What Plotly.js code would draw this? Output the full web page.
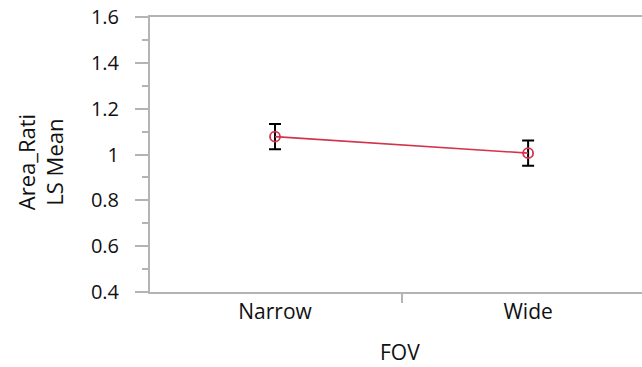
<!DOCTYPE html>
<html>
<head>
<meta charset="utf-8">
<script src="https://cdn.plot.ly/plotly-3.0.1.min.js"></script>
<style>
  html, body { margin: 0; padding: 0; background: #fff; }
  #chart { width: 642px; height: 367px; }
</style>
</head>
<body>
<div id="chart"></div>
<script>
// Least-squares means of Area_Rati by field of view, with error bars
const fovLevels = ["Narrow", "Wide"];
const lsMeans = [1.078, 1.006];
const errHalfWidth = [0.055, 0.055];
const yTicks = [0.4, 0.6, 0.8, 1, 1.2, 1.4, 1.6];

const font = "'Open Sans', 'Noto Sans', sans-serif";
const axisGrey = "#b4b4b4";
const ink = "#111";

// plot box in pixels, used to place the axis titles
const W = 642, H = 367;
const M = { l: 150, r: 0, t: 16.5, b: 75 };
const plotW = W - M.l - M.r, plotH = H - M.t - M.b;
const px2x = px => (px - M.l) / plotW;
const py2y = py => (H - M.b - py) / plotH;

const trace = {
  type: "scatter",
  mode: "lines+markers",
  x: fovLevels,
  y: lsMeans,
  line: { color: "#d3334d", width: 1.6 },
  marker: {
    symbol: "circle-open",
    size: 10,
    color: "#d3334d",
    line: { width: 1.8, color: "#d3334d" }
  },
  error_y: {
    type: "data",
    array: errHalfWidth,
    visible: true,
    color: "#000",
    thickness: 2,
    width: 6
  },
  hoverinfo: "skip"
};

const layout = {
  width: W,
  height: H,
  margin: M,
  paper_bgcolor: "#fff",
  plot_bgcolor: "#fff",
  showlegend: false,
  font: { family: font, size: 20, color: ink },
  xaxis: {
    type: "category",
    range: [-0.494, 1.45],
    showgrid: false,
    zeroline: false,
    showline: true,
    mirror: true,
    linecolor: axisGrey,
    linewidth: 2,
    ticks: "outside",
    tickson: "boundaries",
    ticklen: 9,
    tickwidth: 2,
    tickcolor: axisGrey,
    tickfont: { family: font, size: 21, color: ink }
  },
  yaxis: {
    range: [0.4, 1.6],
    tickvals: yTicks,
    ticktext: yTicks.map(v => String(v)),
    showgrid: false,
    zeroline: false,
    showline: true,
    linecolor: axisGrey,
    linewidth: 2,
    ticks: "outside",
    ticklen: 13,
    tickwidth: 2,
    tickcolor: axisGrey,
    ticklabelstandoff: 12,
    tickfont: { family: font, size: 20, color: ink },
    minor: { dtick: 0.1, ticks: "outside", ticklen: 6, tickwidth: 2, tickcolor: axisGrey, showgrid: false }
  },
  annotations: [
    {
      text: "Area_Rati<br>LS Mean",
      xref: "paper", yref: "paper",
      x: px2x(40), y: py2y(162),
      xanchor: "center", yanchor: "middle",
      textangle: -90,
      showarrow: false,
      font: { family: font, size: 22, color: ink }
    },
    {
      text: "FOV",
      xref: "paper", yref: "paper",
      x: px2x(400), y: py2y(352),
      xanchor: "center", yanchor: "middle",
      showarrow: false,
      font: { family: font, size: 21, color: ink }
    }
  ]
};

Plotly.newPlot("chart", [trace], layout, { displayModeBar: false, staticPlot: true });
</script>
</body>
</html>
